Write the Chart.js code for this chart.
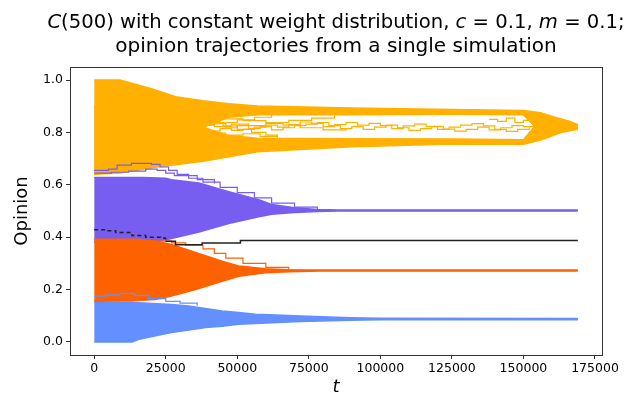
<!DOCTYPE html>
<html>
<head>
<meta charset="utf-8">
<script src="https://cdn.jsdelivr.net/npm/chart.js@4"></script>
<style>
  html, body { margin: 0; padding: 0; background: #fff; }
  #wrap { width: 636px; height: 394px; }
</style>
</head>
<body>
<div id="wrap"><canvas id="chart" width="636" height="394"></canvas></div>
<script>
// axis ticks
const xTicks = [0, 25000, 50000, 75000, 100000, 125000, 150000, 175000];
const xTickLabels = ['0', '25000', '50000', '75000', '100000', '125000', '150000', '175000'];
const yTicks = [0.0, 0.2, 0.4, 0.6, 0.8, 1.0];
const yTickLabels = ['0.0', '0.2', '0.4', '0.6', '0.8', '1.0'];

// envelopes of each opinion cluster (t, upper, lower)
const yelUpT   = [0, 9000, 20000, 29000, 38000, 47000, 57000, 90000, 125000, 150000, 156000, 161000, 166000, 169000];
const yelUpHi  = [1.0, 1.0, 0.967, 0.935, 0.921, 0.910, 0.901, 0.893, 0.888, 0.884, 0.875, 0.858, 0.843, 0.830];
const yelUpLo  = [0.64, 0.645, 0.665, 0.70, 0.82, 0.858, 0.868, 0.868, 0.870, 0.868, 0.80, 0.80, 0.81, 0.815];

const yelLowT  = [0, 20000, 29000, 38000, 47000, 57000, 90000, 125000, 150000, 156000, 163000, 169000];
const yelLowHi = [0.90, 0.87, 0.85, 0.82, 0.788, 0.778, 0.776, 0.775, 0.772, 0.85, 0.84, 0.828];
const yelLowLo = [0.64, 0.665, 0.678, 0.69, 0.707, 0.726, 0.745, 0.756, 0.755, 0.771, 0.80, 0.812];

const purT  = [0, 17000, 25000, 27000, 36600, 47000, 57500, 62000, 70000, 78000, 85000, 169000];
const purHi = [0.628, 0.628, 0.625, 0.619, 0.607, 0.574, 0.543, 0.525, 0.512, 0.506, 0.504, 0.504];
const purLo = [0.38, 0.38, 0.39, 0.395, 0.42, 0.452, 0.478, 0.488, 0.494, 0.498, 0.500, 0.500];

const oraT  = [0, 15000, 21400, 27000, 35400, 44700, 50500, 59800, 68000, 79000, 169000];
const oraHi = [0.392, 0.392, 0.385, 0.372, 0.342, 0.308, 0.290, 0.279, 0.276, 0.275, 0.275];
const oraLo = [0.155, 0.158, 0.162, 0.175, 0.200, 0.232, 0.251, 0.264, 0.268, 0.271, 0.271];

const bluT  = [0, 13200, 15600, 27000, 33000, 38900, 44700, 50500, 56400, 68000, 72200, 89600, 100000, 169000];
const bluHi = [0.152, 0.152, 0.150, 0.143, 0.137, 0.128, 0.118, 0.112, 0.106, 0.101, 0.099, 0.092, 0.090, 0.089];
const bluLo = [0.0, 0.0, 0.010, 0.036, 0.045, 0.055, 0.060, 0.067, 0.070, 0.076, 0.078, 0.083, 0.085, 0.085];

// single trajectories that stand out of the clusters
const w1T = [30000, 34000, 38000, 42000, 46000, 50000, 54000, 58000, 62000, 66000, 70000, 74000, 78000, 82000, 86000, 90000, 94000, 98000, 102000, 106000, 110000, 114000, 118000, 122000, 126000, 130000, 134000, 138000, 142000, 146000, 150000, 154000];
const w1Y = [0.835, 0.842, 0.828, 0.834, 0.818, 0.826, 0.815, 0.822, 0.810, 0.818, 0.826, 0.832, 0.838, 0.826, 0.815, 0.822, 0.812, 0.820, 0.828, 0.818, 0.808, 0.815, 0.823, 0.813, 0.805, 0.812, 0.820, 0.810, 0.818, 0.826, 0.822, 0.828];
const w2T = [32000, 36000, 40000, 44000, 48000, 52000, 56000, 60000, 64000, 68000, 72000, 76000, 80000, 84000, 88000, 92000, 96000, 100000, 104000, 108000, 112000, 116000, 120000, 124000, 128000, 132000, 136000, 140000, 144000, 148000, 152000];
const w2Y = [0.800, 0.812, 0.805, 0.815, 0.808, 0.812, 0.820, 0.828, 0.820, 0.830, 0.840, 0.835, 0.822, 0.830, 0.838, 0.828, 0.835, 0.826, 0.815, 0.825, 0.832, 0.822, 0.812, 0.820, 0.828, 0.834, 0.825, 0.812, 0.804, 0.812, 0.820];
const w3T = [35000, 40000, 45000, 50000, 55000, 60000, 64000];
const w3Y = [0.850, 0.838, 0.825, 0.812, 0.800, 0.790, 0.778];
const w4T = [40000, 45000, 52000, 60000, 68000, 76000, 84000];
const w4Y = [0.860, 0.852, 0.845, 0.838, 0.846, 0.855, 0.866];
const w5T = [20000, 26000, 32000, 38000, 44000, 50000, 56000, 62000];
const w5Y = [0.830, 0.840, 0.852, 0.845, 0.838, 0.848, 0.858, 0.866];
const w6T = [22000, 28000, 34000, 40000, 46000, 52000, 58000, 64000];
const w6Y = [0.800, 0.795, 0.805, 0.798, 0.790, 0.795, 0.785, 0.778];
const w7T = [25000, 30000, 36000, 42000, 48000, 54000, 60000, 66000, 72000, 80000, 88000];
const w7Y = [0.820, 0.815, 0.830, 0.822, 0.832, 0.826, 0.835, 0.828, 0.818, 0.810, 0.815];
const w8T = [138000, 141000, 144000, 147000, 150000, 153000];
const w8Y = [0.850, 0.842, 0.855, 0.838, 0.846, 0.832];

const p1T = [0, 5000, 8000, 13000, 20000, 23000, 26000, 29000, 33000, 38000, 44000, 50000, 56000, 62000, 70000, 78000];
const p1Y = [0.655, 0.660, 0.675, 0.682, 0.678, 0.668, 0.655, 0.640, 0.625, 0.610, 0.590, 0.570, 0.550, 0.530, 0.515, 0.506];
const p2T = [0, 6000, 12000, 18000, 22000, 25000, 28000, 36000, 42000];
const p2Y = [0.645, 0.648, 0.652, 0.660, 0.655, 0.645, 0.635, 0.620, 0.605];

const o1T = [20000, 27000, 32000, 38000, 42000, 46000, 52000, 60000, 68000];
const o1Y = [0.385, 0.378, 0.370, 0.355, 0.338, 0.320, 0.300, 0.285, 0.278];

const b1T = [0, 4000, 9000, 14000, 19000, 25000, 30000, 36000];
const b1Y = [0.175, 0.180, 0.185, 0.178, 0.165, 0.155, 0.148, 0.138];

const blkT = [0, 4000, 7500, 13200, 18000, 23200, 24900, 28400, 37700, 51100, 169000];
const blkY = [0.428, 0.425, 0.418, 0.406, 0.400, 0.397, 0.384, 0.371, 0.378, 0.387, 0.387];

const YEL = '#FFB000', PUR = '#785EF0', ORA = '#FE6100', BLU = '#648FFF';

function pts(ts, ys) {
    return ts.map((t, i) => ({ x: t, y: ys[i] }));
}

function band(ts, hi, lo, color, order) {
    return [
        { data: pts(ts, hi), borderColor: color, borderWidth: 1.5, fill: false, order: order },
        { data: pts(ts, lo), borderColor: color, borderWidth: 1.5, backgroundColor: color, fill: '-1', order: order }
    ];
}

function traj(ts, ys, color, order, extra) {
    return Object.assign({ data: pts(ts, ys), borderColor: color, borderWidth: 1.2, fill: false, stepped: true, order: order }, extra || {});
}

const datasets = [
    ...band(purT, purHi, purLo, PUR, 9),
    ...band(bluT, bluHi, bluLo, BLU, 8),
    ...band(oraT, oraHi, oraLo, ORA, 7),
    ...band(yelUpT, yelUpHi, yelUpLo, YEL, 6),
    ...band(yelLowT, yelLowHi, yelLowLo, YEL, 6),
    traj(w1T, w1Y, YEL, 3),
    traj(w2T, w2Y, YEL, 3),
    traj(w3T, w3Y, YEL, 3),
    traj(w4T, w4Y, YEL, 3),
    traj(w5T, w5Y, YEL, 3),
    traj(w6T, w6Y, YEL, 3),
    traj(w7T, w7Y, YEL, 3),
    traj(w8T, w8Y, YEL, 3),
    traj(p1T, p1Y, PUR, 3),
    traj(p2T, p2Y, PUR, 3),
    traj(o1T, o1Y, ORA, 3),
    traj(b1T, b1Y, BLU, 3),
    traj(blkT, blkY, '#222', 1, {
        borderWidth: 1.5,
        segment: { borderDash: ctx => ctx.p0.parsed.x < 24000 ? [4, 3] : [] }
    })
];

function drawRuns(ctx, runs, cx, y) {
    let total = 0;
    runs.forEach(r => { ctx.font = r[1]; total += ctx.measureText(r[0]).width; });
    let x = cx - total / 2;
    runs.forEach(r => {
        ctx.font = r[1];
        ctx.fillText(r[0], x, y);
        x += ctx.measureText(r[0]).width;
    });
}

const textPlugin = {
    id: 'texts',
    afterDraw(chart) {
        const ctx = chart.ctx;
        const a = chart.chartArea;
        const cx = (a.left + a.right) / 2;
        const N1 = '19.6px "DejaVu Sans"', I1 = 'italic 19.6px "DejaVu Sans"';
        const N = '20px "DejaVu Sans"';
        ctx.save();
        ctx.fillStyle = '#000';
        ctx.textBaseline = 'alphabetic';
        ctx.textAlign = 'left';
        drawRuns(ctx, [['C', I1], ['(500) with constant weight distribution, ', N1], ['c', I1], [' = 0.1, ', N1], ['m', I1], [' = 0.1;', N1]], cx, 28);
        drawRuns(ctx, [['opinion trajectories from a single simulation', N]], cx, 52);
        ctx.font = 'italic 18px "DejaVu Sans"';
        ctx.textAlign = 'center';
        ctx.fillText('t', cx, 392);
        ctx.translate(22, (a.top + a.bottom) / 2);
        ctx.rotate(-Math.PI / 2);
        ctx.textBaseline = 'middle';
        ctx.font = '18px "DejaVu Sans"';
        ctx.fillText('Opinion', 0, 0);
        ctx.restore();
        // frame
        ctx.save();
        ctx.strokeStyle = '#333';
        ctx.lineWidth = 1;
        ctx.strokeRect(Math.round(a.left) + 0.5, Math.round(a.top) + 0.5, Math.round(a.right - a.left), Math.round(a.bottom - a.top));
        ctx.restore();
    }
};

new Chart(document.getElementById('chart').getContext('2d'), {
    type: 'line',
    data: { datasets: datasets },
    options: {
        responsive: false,
        animation: false,
        events: [],
        layout: { padding: { top: 67, right: 34, left: 0, bottom: 0 } },
        elements: { point: { radius: 0 }, line: { tension: 0 } },
        plugins: { legend: { display: false }, tooltip: { enabled: false }, title: { display: false } },
        scales: {
            x: {
                type: 'linear',
                min: -8450,
                max: 177450,
                afterFit: s => { s.height = 39; },
                afterBuildTicks: s => { s.ticks = xTicks.map(v => ({ value: v })); },
                grid: { drawOnChartArea: false, drawTicks: true, tickLength: 4, color: '#333' },
                border: { display: false },
                ticks: {
                    color: '#000', font: { family: 'DejaVu Sans', size: 12.5 }, padding: 2, maxRotation: 0, autoSkip: false,
                    callback: (v, i) => xTickLabels[i]
                }
            },
            y: {
                type: 'linear',
                min: -0.05,
                max: 1.05,
                afterFit: s => { s.width = 70; },
                afterBuildTicks: s => { s.ticks = yTicks.map(v => ({ value: v })); },
                grid: { drawOnChartArea: false, drawTicks: true, tickLength: 4, color: '#333' },
                border: { display: false },
                ticks: {
                    color: '#000', font: { family: 'DejaVu Sans', size: 12.5 }, padding: 3, autoSkip: false,
                    callback: (v, i) => yTickLabels[i]
                }
            }
        }
    },
    plugins: [textPlugin]
});
</script>
</body>
</html>
